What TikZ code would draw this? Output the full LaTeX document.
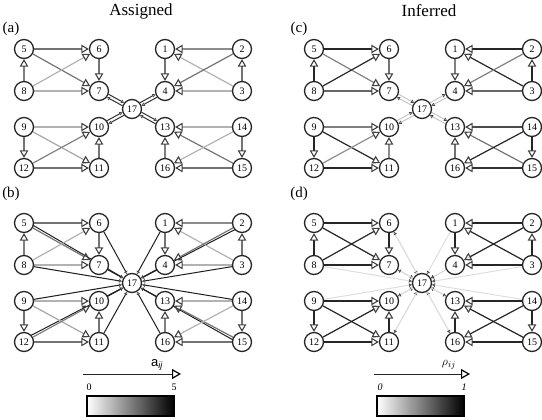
\documentclass[tikz,border=0pt]{standalone}
\usepackage{fontspec}
\setmainfont{Liberation Serif}
\setsansfont{Liberation Sans}
\usetikzlibrary{arrows.meta,calc,backgrounds}
\tikzset{
    %Define style for the numbered nodes
    vertex/.style={
           circle,
           draw=black!85, line width=1.3pt,
           fill=white,
           minimum size=19pt,
           inner sep=0pt,
           font=\fontsize{10}{10}\selectfont},
    % Define arrow style inside the clusters
    big/.style={
           -{Triangle[open,length=7.5pt,width=8.5pt,line width=1.1pt,color=black!75]},
           line width=1.2pt},
    % Define arrow style for the links of node 17
    sm/.style={
           -{Triangle[open,length=3pt,width=3.5pt,line width=0.6pt,color=black!75]},
           line width=1pt},
    % Define style for panel texts
    title/.style={font=\fontsize{17}{17}\selectfont},
    panel/.style={font=\fontsize{15}{15}\selectfont},
    scale text/.style={font=\fontsize{10}{10}\selectfont}
}
% the 17 nodes of one panel: prefix, x shift, y shift
\newcommand\placenodes[3]{%
  \foreach \n/\x/\y in {5/24/49,6/99/49,1/165/49,2/242/49,
                        8/24/91,7/99/91,4/165/91,3/242/91,
                        9/24/127,10/99/127,13/165/127,14/242/127,
                        12/24/168,11/99/168,16/165/168,15/242/168,17/132/109}
    \node[vertex] (#1\n) at (\x+#2,\y+#3) {\n};
}
% two parallel links in opposite directions
\newcommand\twoway[3]{%
  \draw[sm,draw=black!#3,shorten <=10pt,shorten >=10pt]
    ($(#1)!1.7pt!90:(#2)$) -- ($(#2)!1.7pt!-90:(#1)$);
  \draw[sm,draw=black!#3,shorten <=10pt,shorten >=10pt]
    ($(#2)!1.7pt!90:(#1)$) -- ($(#1)!1.7pt!-90:(#2)$);
}

\begin{document}
\begin{tikzpicture}[x=1pt,y=-1pt]
  \useasboundingbox (0,0) rectangle (542,420);

  % headings
  \node[title] (assigned) at (141,11) {Assigned};
  \node[title] (inferred) at (429,11) {Inferred};
  \node[panel] (la) at (11,29) {(a)};
  \node[panel] (lb) at (11,194) {(b)};
  \node[panel] (lc) at (299,29) {(c)};
  \node[panel] (ld) at (299,194) {(d)};

  \placenodes{a}{0}{0}
  \placenodes{b}{0}{174}
  \placenodes{c}{290}{0}
  \placenodes{d}{290}{174}

  \begin{scope}[on background layer]
  % (a) assigned couplings
  \foreach \i/\j/\g in {5/6/55,5/7/55,8/5/50,8/6/30,8/7/30,6/7/55,
                        2/1/45,3/1/30,1/4/55,2/4/55,3/4/30,3/2/55,
                        9/10/30,9/11/35,9/12/55,12/10/50,12/11/55,11/10/55,
                        14/13/30,15/13/55,14/16/30,14/15/55,15/16/55,16/13/50}
    \draw[big,draw=black!\g] (a\i) -- (a\j);
  \twoway{a17}{a7}{80}
  \twoway{a17}{a4}{80}
  \twoway{a17}{a10}{80}
  \twoway{a17}{a13}{80}

  % (b) assigned couplings with node 17
  \foreach \i in {1,3,4,6,7,8,9,10,11,13,14,16}
    \draw[sm,draw=black!88] (b\i) -- (b17);
  \foreach \i in {5,2,12,15}
    \draw[sm,draw=black!88] ($(b\i)!2.6pt!90:(b17)$) -- (b17);
  \foreach \i/\j/\g in {5/6/55,5/7/55,8/5/50,8/6/30,8/7/30,6/7/55,
                        2/1/45,3/1/30,1/4/55,2/4/55,3/4/30,3/2/55,
                        9/10/30,9/11/35,9/12/55,12/10/50,12/11/55,11/10/55,
                        14/13/30,15/13/55,14/16/30,14/15/55,15/16/55,16/13/50}
    \draw[big,draw=black!\g] (b\i) -- (b\j);

  % (c) inferred couplings
  \foreach \i/\j/\g in {5/6/85,5/7/50,8/5/85,8/6/85,8/7/60,6/7/55,
                        2/1/85,3/1/85,1/4/50,2/4/50,3/4/60,3/2/85,
                        9/10/50,9/11/85,9/12/85,12/10/45,12/11/85,11/10/45,
                        14/13/70,15/13/55,14/16/85,14/15/85,15/16/80,16/13/55}
    \draw[big,draw=black!\g] (c\i) -- (c\j);
  \twoway{c17}{c7}{22}
  \twoway{c17}{c4}{22}
  \twoway{c17}{c10}{22}
  \twoway{c17}{c13}{22}

  % (d) inferred couplings with node 17
  \foreach \i in {1,...,16}
    \draw[sm,draw=black!13] (d\i) -- (d17);
  \foreach \i in {6,7,10,11,13,16}
    \draw[sm,draw=black!13] (d17) -- (d\i);
  \foreach \i/\j in {5/6,5/7,8/5,8/6,8/7,6/7,
                     2/1,3/1,1/4,2/4,3/4,3/2,
                     9/10,9/11,9/12,12/10,12/11,11/10,
                     14/13,15/13,14/16,14/15,15/16,16/13}
    \draw[big,draw=black!85] (d\i) -- (d\j);
  \end{scope}

  % scale of a_ij
  \coordinate (aL) at (83,374);
  \coordinate (aR) at (181,374);
  \draw[line width=1pt,draw=black!85,
        -{Triangle[open,length=9pt,width=10pt,line width=1.2pt,color=black]}] (aL) -- (aR);
  \node[font=\sffamily\fontsize{13}{13}\selectfont] (alab) at (157,365) {a\textsubscript{\itshape ij}};
  \node[scale text] (a0) at (89,387) {0};
  \node[scale text] (a5) at (174,387) {5};
  \node[draw,line width=1.2pt,left color=white,right color=black,
        minimum width=87pt,minimum height=20pt,inner sep=0pt] (abar) at (130.5,406) {};

  % scale of rho_ij
  \coordinate (rL) at (374,374);
  \coordinate (rR) at (470,374);
  \draw[line width=1pt,draw=black!85,
        -{Triangle[open,length=9pt,width=10pt,line width=1.2pt,color=black]}] (rL) -- (rR);
  \node[font=\fontsize{13}{13}\selectfont] (rlab) at (449,365) {$\rho_{ij}$};
  \node[scale text] (r0) at (380,387) {\itshape 0};
  \node[scale text] (r1) at (464,387) {\itshape 1};
  \node[draw,line width=1.2pt,left color=white,right color=black,
        minimum width=87pt,minimum height=20pt,inner sep=0pt] (rbar) at (420.5,406) {};
\end{tikzpicture}
\end{document}
